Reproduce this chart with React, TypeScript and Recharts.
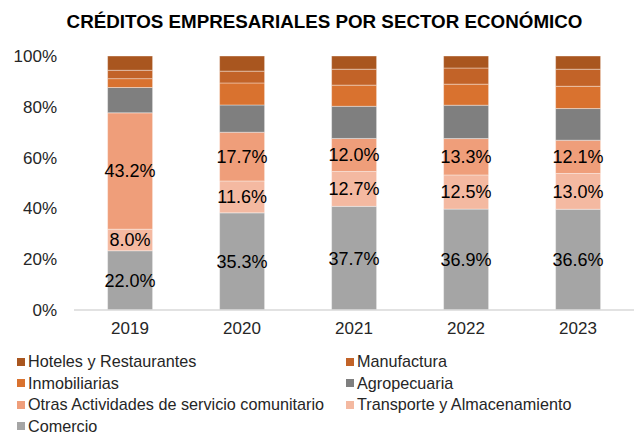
import { BarChart, Bar, XAxis, YAxis, LabelList } from "recharts";

const years = ["2019", "2020", "2021", "2022", "2023"];

// labelled series (values shown on the bars)
const comercio = [22.0, 35.3, 37.7, 36.9, 36.6];
const transporte = [8.0, 11.6, 12.7, 12.5, 13.0];
const otras = [43.2, 17.7, 12.0, 13.3, 12.1];
// unlabelled series
const agropecuaria = [9.4, 9.9, 11.7, 12.2, 11.5];
const inmobiliarias = [3.3, 8.0, 7.7, 7.7, 8.1];
const manufactura = [3.1, 4.3, 5.8, 5.9, 6.2];
const hoteles = [5.3, 5.5, 4.8, 4.4, 4.8];

const yTicks = [0, 0.2, 0.4, 0.6, 0.8, 1];

const series = [
  { key: "comercio", name: "Comercio", color: "#A5A5A5", label: true },
  { key: "transporte", name: "Transporte y Almacenamiento", color: "#F4B9A1", label: true },
  { key: "otras", name: "Otras Actividades de servicio comunitario", color: "#EF9E7A", label: true },
  { key: "agropecuaria", name: "Agropecuaria", color: "#7F7F7F", label: false },
  { key: "inmobiliarias", name: "Inmobiliarias", color: "#D9722F", label: false },
  { key: "manufactura", name: "Manufactura", color: "#C26328", label: false },
  { key: "hoteles", name: "Hoteles y Restaurantes", color: "#A9561F", label: false },
];

const data = years.map((year, i) => ({
  year,
  comercio: comercio[i],
  transporte: transporte[i],
  otras: otras[i],
  agropecuaria: agropecuaria[i],
  inmobiliarias: inmobiliarias[i],
  manufactura: manufactura[i],
  hoteles: hoteles[i],
}));

const legendOrder = [
  "hoteles",
  "manufactura",
  "inmobiliarias",
  "agropecuaria",
  "otras",
  "transporte",
  "comercio",
];

const font = "'Liberation Sans', Arial, sans-serif";

export default function App() {
  return (
    <div
      style={{
        position: "absolute",
        left: 0,
        top: 0,
        width: 641,
        height: 432,
        background: "#fff",
        fontFamily: font,
        overflow: "hidden",
      }}
    >
      <div
        style={{
          position: "absolute",
          top: 11,
          left: 0,
          width: 641,
          textAlign: "center",
          fontWeight: "bold",
          fontSize: 18.8,
          color: "#000",
          paddingLeft: 4,
        }}
      >
        CRÉDITOS EMPRESARIALES POR SECTOR ECONÓMICO
      </div>

      <BarChart
        width={641}
        height={345}
        data={data}
        stackOffset="expand"
        barCategoryGap="30%"
        margin={{ top: 56, right: 7, bottom: 5, left: 0 }}
      >
        <XAxis
          dataKey="year"
          height={30}
          tickSize={0}
          tickMargin={12}
          axisLine={{ stroke: "#D9D9D9", strokeWidth: 1.5 }}
          tick={{ fill: "#262626", fontSize: 17, fontFamily: font }}
        />
        <YAxis
          width={74}
          ticks={yTicks}
          domain={[0, 1]}
          tickSize={0}
          tickMargin={17}
          axisLine={false}
          tickFormatter={(v: number) => `${Math.round(v * 100)}%`}
          tick={{ fill: "#262626", fontSize: 17, fontFamily: font }}
        />
        {series.map((s) => (
          <Bar
            key={s.key}
            dataKey={s.key}
            name={s.name}
            stackId="a"
            fill={s.color}
            stroke="rgba(255,255,255,0.5)"
            strokeWidth={0.75}
            isAnimationActive={false}
          >
            {s.label && (
              <LabelList
                dataKey={s.key}
                position="center"
                formatter={(v: number) => `${Number(v).toFixed(1)}%`}
                style={{ fill: "#000", fontSize: 18, fontFamily: font }}
              />
            )}
          </Bar>
        ))}
      </BarChart>

      <div
        style={{
          position: "absolute",
          top: 351,
          left: 17,
          display: "grid",
          gridTemplateColumns: "329px 290px",
          rowGap: 0,
          fontSize: 16.2,
          color: "#262626",
          lineHeight: "21.5px",
        }}
      >
        {legendOrder.map((k) => {
          const s = series.find((x) => x.key === k)!;
          return (
            <div key={k} style={{ display: "flex", alignItems: "center", whiteSpace: "nowrap" }}>
              <span
                style={{
                  display: "inline-block",
                  flex: "none",
                  width: 8,
                  height: 8,
                  background: s.color,
                  marginRight: 3,
                }}
              />
              {s.name}
            </div>
          );
        })}
      </div>
    </div>
  );
}
